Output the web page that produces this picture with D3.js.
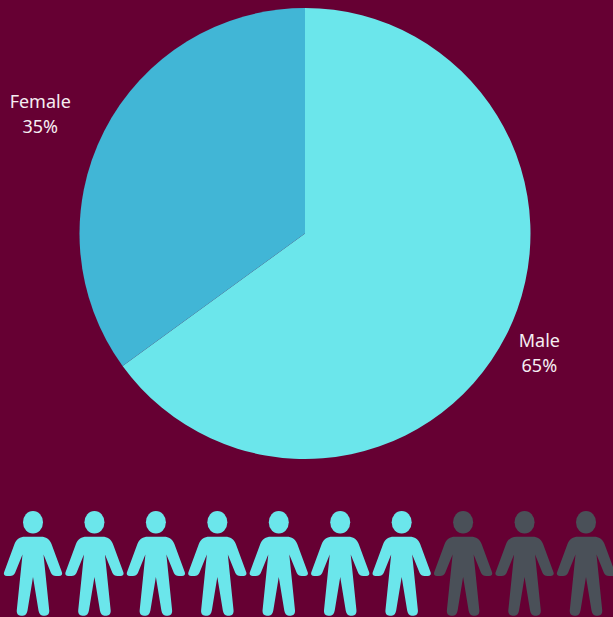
<!DOCTYPE html>
<html>
<head>
<meta charset="utf-8">
<script src="https://cdn.jsdelivr.net/npm/d3@7"></script>
<style>
  html, body { margin: 0; padding: 0; background: #660033; overflow: hidden; }
  svg { display: block; }
  text { font-family: "Noto Sans", Roboto, sans-serif; font-size: 18px; fill: #f5eef2; text-anchor: middle; }
</style>
</head>
<body>
<div id="chart"></div>
<script>
// Chart data
var categories = ['Male', 'Female'];
var shares = [65, 35];
var sliceColors = ['#6be6eb', '#41b6d6'];

// People row: 7 of the 10 figures are highlighted
var people = [1, 1, 1, 1, 1, 1, 1, 0, 0, 0];
var personColors = ['#4a5058', '#6be6eb'];

var width = 613;
var height = 617;
var cx = 305, cy = 233.5, radius = 225.5;

var svg = d3.select('#chart').append('svg')
    .attr('width', width)
    .attr('height', height);

// Pie, Male starts at 12 o'clock going clockwise
var pie = d3.pie().sort(null).value(function (d) { return d; });
var arc = d3.arc().innerRadius(0).outerRadius(radius);
var slices = pie(shares);

var pieG = svg.append('g').attr('transform', 'translate(' + cx + ',' + cy + ')');

pieG.selectAll('path')
    .data(slices)
    .enter().append('path')
    .attr('d', arc)
    .attr('fill', function (d, i) { return sliceColors[i]; });

// Labels sit outside the pie, Female is pushed further out than Male
var labelRadius = [263, 290.5];
var labelTurn = [0, -0.015];

var labels = pieG.selectAll('text')
    .data(slices)
    .enter().append('text')
    .attr('transform', function (d, i) {
        var mid = (d.startAngle + d.endAngle) / 2 + labelTurn[i] * Math.PI;
        var x = Math.sin(mid) * labelRadius[i];
        var y = -Math.cos(mid) * labelRadius[i];
        return 'translate(' + x + ',' + y + ')';
    });

labels.append('tspan')
    .attr('x', 0)
    .attr('dy', '-0.33em')
    .text(function (d, i) { return categories[i]; });

labels.append('tspan')
    .attr('x', 0)
    .attr('dy', '1.37em')
    .text(function (d) { return d.data + '%'; });

// Person icon, drawn around x = 0 with the top of the head at y = 0
var personBody = 'M-8,25.7 L8,25.7 C13,25.7 16.5,28 18.5,33 L29,61.5 C29.6,63.5 28.5,65 26,65 L23,65 C20.5,65 19,64 18,62 L10.5,43.5 ' +
    'L16.2,99 C16.6,102.5 15,104.7 12,104.7 L10,104.7 C7.5,104.7 6,102.5 5.5,99.5 L0,66 ' +
    'L-5.5,99.5 C-6,102.5 -7.5,104.7 -10,104.7 L-12,104.7 C-15,104.7 -16.6,102.5 -16.2,99 L-10.5,43.5 ' +
    'L-18,62 C-19,64 -20.5,65 -23,65 L-26,65 C-28.5,65 -29.6,63.5 -29,61.5 L-18.5,33 C-16.5,28 -13,25.7 -8,25.7 Z';

var x = d3.scalePoint()
    .domain(d3.range(people.length))
    .range([33, 586]);

var personG = svg.selectAll('g.person')
    .data(people)
    .enter().append('g')
    .attr('class', 'person')
    .attr('transform', function (d, i) { return 'translate(' + x(i) + ',511)'; })
    .attr('fill', function (d) { return personColors[d]; });

personG.append('ellipse')
    .attr('cx', 0)
    .attr('cy', 11.3)
    .attr('rx', 10)
    .attr('ry', 11.3);

personG.append('path')
    .attr('d', personBody);
</script>
</body>
</html>
